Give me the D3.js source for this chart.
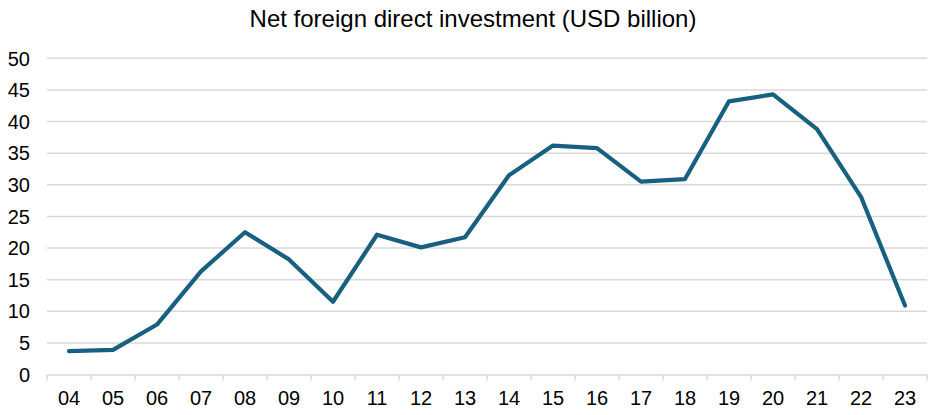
<!DOCTYPE html>
<html><head><meta charset="utf-8">
<script src="https://cdn.jsdelivr.net/npm/d3@7"></script>
<style>body{margin:0;background:#fff}svg{display:block}text{font-family:"Liberation Sans",Arial,sans-serif;fill:#000}</style>
</head><body><svg id="c" width="940" height="415"></svg>
<script>
const title = "Net foreign direct investment (USD billion)";
const years = ["04","05","06","07","08","09","10","11","12","13","14","15","16","17","18","19","20","21","22","23"];
const values = [3.7,3.9,7.9,16.3,22.5,18.2,11.5,22.1,20.1,21.7,31.5,36.2,35.8,30.5,30.9,43.2,44.3,38.8,28.1,10.9];
const yTicks = [0,5,10,15,20,25,30,35,40,45,50];

const svg = d3.select("#c");
const L = 47, R = 927, T = 58.3, B = 374.5;
const x = d3.scaleBand().domain(years).range([L, R]);
const y = d3.scaleLinear().domain([0, 50]).range([B, T]);

svg.append("text").attr("x", 473).attr("y", 27).attr("text-anchor", "middle")
  .style("font-size", "24px").text(title);

// gridlines
svg.append("g").selectAll("line").data(yTicks.filter(d => d > 0)).join("line")
  .attr("x1", L).attr("x2", R).attr("y1", d => y(d)).attr("y2", d => y(d))
  .attr("stroke", "#d9d9d9").attr("stroke-width", 1.5);

// y labels
svg.append("g").selectAll("text").data(yTicks).join("text")
  .attr("x", 30).attr("y", d => y(d)).attr("dy", "0.36em").attr("text-anchor", "end")
  .style("font-size", "20px").text(d => d);

// x axis
const xa = svg.append("g").attr("transform", `translate(0,${B})`)
  .call(d3.axisBottom(x).tickSize(0).tickPadding(0));
xa.select(".domain").attr("stroke", "#d9d9d9").attr("stroke-width", 1.5);
xa.selectAll("text").style("font-size", "20px").attr("font-family", null).attr("fill", "#000")
  .attr("dy", null).attr("y", 30.5);
const bounds = years.map(d => x(d)).concat([R]);
svg.append("g").selectAll("line").data(bounds).join("line")
  .attr("x1", d => d).attr("x2", d => d).attr("y1", B).attr("y2", B + 6)
  .attr("stroke", "#d9d9d9").attr("stroke-width", 1.5);

// line
const line = d3.line().x((d, i) => x(years[i]) + x.bandwidth() / 2).y(d => y(d));
svg.append("path").datum(values).attr("d", line).attr("fill", "none")
  .attr("stroke", "#18607f").attr("stroke-width", 4.2)
  .attr("stroke-linejoin", "round").attr("stroke-linecap", "round");
</script></body></html>
